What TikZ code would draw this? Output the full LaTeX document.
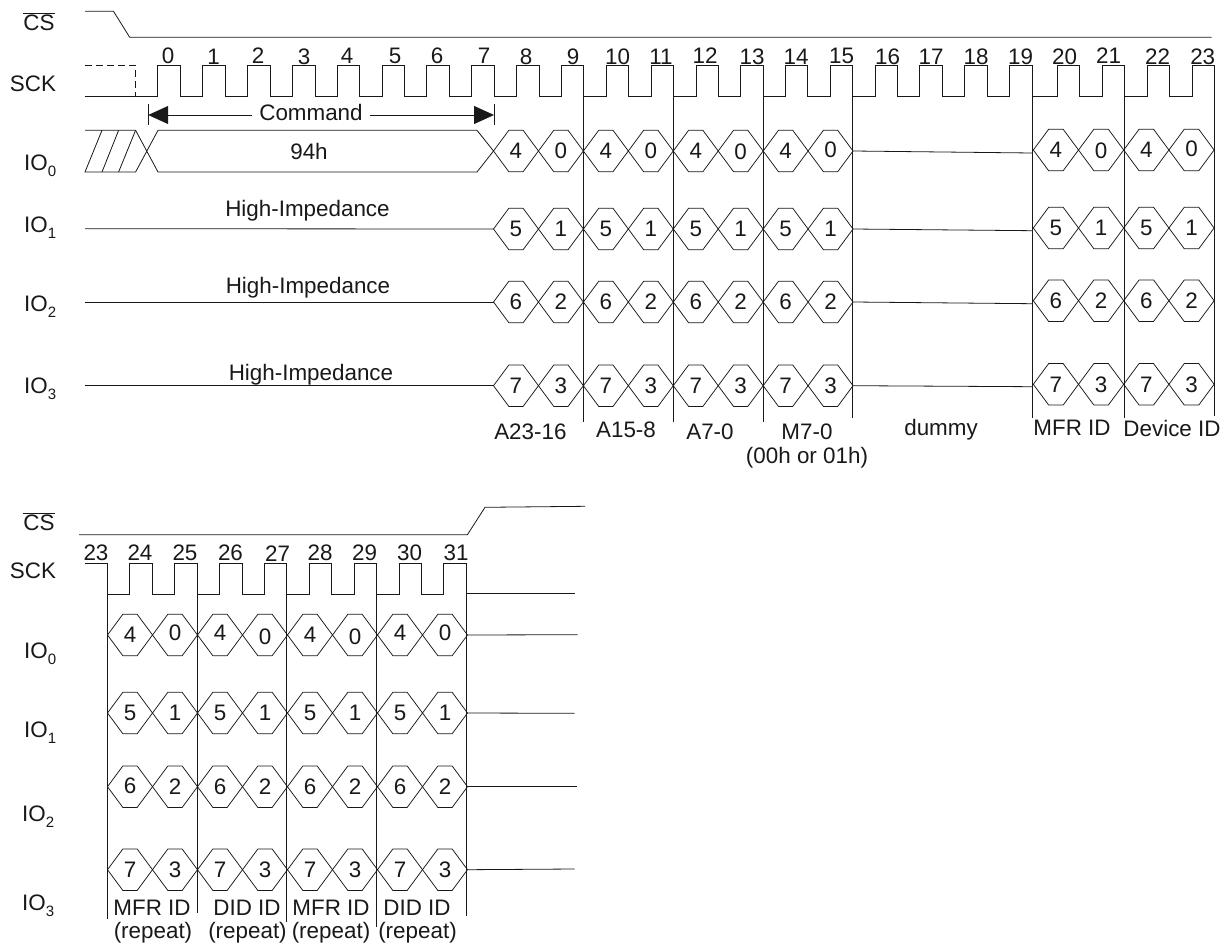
\documentclass[tikz,border=0pt]{standalone}
\usepackage{fontspec}
\setmainfont{Liberation Sans}
\usetikzlibrary{shapes.symbols,arrows.meta}
\definecolor{ink}{gray}{0.1}
\newcommand{\IOsub}[1]{IO\raisebox{-0.28em}{\fontsize{15}{16}\selectfont #1}}
\newcommand{\CSbar}{$\overline{\mbox{CS}}$}
% \hexrow{id}{y}{x0}{period}{last index}{digitA}{digitB}{offsets}
\newcommand{\hexrow}[8]{%
  \foreach \i in {0,...,#5}{%
    \pgfmathsetmacro{\cx}{#3+#4*(\i+0.5)}%
    \pgfmathsetmacro{\dy}{{#8}[\i]}%
    \pgfmathtruncatemacro{\odd}{mod(\i,2)}%
    \node[hexcell,minimum width=#4*1pt] (h#1-\i) at (\cx,#2) {};
    \node[digit] (d#1-\i) at (\cx,#2+\dy) {\ifnum\odd=0 #6\else #7\fi};
  }}
\begin{document}
\begin{tikzpicture}[x=1pt,y=-1pt,
  wire/.style={draw=ink,line width=0.8pt,line join=miter},
  hexcell/.style={draw=ink,line width=0.75pt,shape=signal,signal to=east and west,
    signal pointer angle=107,minimum height=41.5pt,inner sep=0pt,outer sep=0pt},
  digit/.style={font=\fontsize{22.4}{26}\selectfont,inner sep=0pt,text=ink},
  txt/.style={font=\fontsize{22.4}{26}\selectfont,inner sep=0pt,text=ink},
  sublab/.style={txt,anchor=base west},
  bigtri/.style={-{Triangle[length=20pt,width=18pt]}}]
\useasboundingbox (0,0) rectangle (1228,947);
\fill[white] (0,0) rectangle (1228,947);

%%% UPPER
\node[txt] (csA) at (39,22) {\CSbar};
\node[txt] (sckA) at (33,84) {SCK};
\node[sublab] (ioA0) at (24,170) {\IOsub{0}};
\node[sublab] (ioA1) at (24,232) {\IOsub{1}};
\node[sublab] (ioA2) at (24,311) {\IOsub{2}};
\node[sublab] (ioA3) at (24,393) {\IOsub{3}};

\draw[wire] (85,11.3) -- (113.5,11.3) -- (129.7,37.3) -- (1211.5,37.3);
\draw[wire,dash pattern=on 7pt off 4pt] (85,65.3) -- (135.5,65.3) -- (135.5,96.7);
\draw[wire] (85,96.7) foreach \r/\f in {157.4/180.7,202.4/225.8,247.5/270,292.2/315.1,337.3/359.8,382/404.5,426.6/449.2,471.3/494.3,516.4/539,561.5/583.6,606/628.4,650.9/673.3,696/718,740.6/763,785.4/807.8,830.3/852.7,875/897.5,919.6/942.4,964.8/987.3,1009.7/1032,1057/1079.4,1102/1124.6,1147/1169,1192/1214}
 { -- (\r,96.7) -- (\r,65.3) -- (\f,65.3) -- (\f,96.7)};

\foreach \n/\x/\y in {0/168/56,1/213.5/57,2/258/56,3/304/57,4/347/56,5/395/56,6/437/56,7/484/56,8/526/57,9/573/57,10/617.5/57,11/661/57,12/705/56,13/752/57,14/796/57,15/841.5/56,16/887.5/57,17/931/57,18/976/57,19/1020.5/57,20/1064.5/57,21/1108.6/56,22/1157.5/57,23/1202.7/57}
  \node[txt] (nA\n) at (\x,\y) {\n};

\coordinate (cmdL) at (148.2,115);
\coordinate (cmdR) at (494,115);
\coordinate (cmdLt) at (148.2,104);
\coordinate (cmdLb) at (148.2,125);
\coordinate (cmdRt) at (494,104);
\coordinate (cmdRb) at (494,125);
\node[txt,inner xsep=7pt] (cmd) at (311,112) {Command};
\draw[wire] (cmdLt) -- (cmdLb);
\draw[wire] (cmdRt) -- (cmdRb);
\draw[wire,bigtri] (cmd.west |- cmdL) -- (cmdL);
\draw[wire,bigtri] (cmd.east |- cmdR) -- (cmdR);

% IO0 command bus
\draw[wire] (85,130.3) -- (135.6,130.3) -- (158,172) -- (477,172) -- (493.5,151) -- (477,130.3) -- (158,130.3) -- (135.6,172) -- (85,172) -- (102,130.3);
\draw[wire] (102,172) -- (118.6,130.3);
\draw[wire] (118.6,172) -- (135.6,130.3);
\node[txt] (hex94) at (309,151) {94h};

\hexrow{a0}{151}{493.5}{44.94}{7}{4}{0}{0,0,0,0,0,0.7,0,-1}
\hexrow{a1}{229}{493.5}{44.94}{7}{5}{1}{0,0,0,0,0,0,0,0}
\hexrow{a2}{302}{493.5}{44.94}{7}{6}{2}{0,0,0,0,0,0,0,0}
\hexrow{a3}{385.7}{493.5}{44.94}{7}{7}{3}{0,0,0,0,0,0,0,0}
\hexrow{b0}{150}{1033.3}{45.2}{3}{4}{0}{0,1,0,-1}
\hexrow{b1}{228}{1033.3}{45.2}{3}{5}{1}{0,0,0,0}
\hexrow{b2}{300.7}{1033.3}{45.2}{3}{6}{2}{0,0,0,0}
\hexrow{b3}{384.3}{1033.3}{45.2}{3}{7}{3}{0,0,0,0}

\coordinate (hiz1) at (85,228.7);
\coordinate (hiz2) at (85,302);
\coordinate (hiz3) at (85,385.7);
\draw[wire] (hiz1) -- (ha1-0.west);
\draw[wire] (hiz2) -- (ha2-0.west);
\draw[wire] (hiz3) -- (ha3-0.west);
\node[txt] (hi1) at (307.5,211) {High-Impedance};
\node[txt] (hi2) at (308,288) {High-Impedance};
\node[txt] (hi3) at (311,375) {High-Impedance};

\coordinate (dm0) at (1032,153);
\coordinate (dm1) at (1032,230.7);
\coordinate (dm2) at (1032,303.7);
\coordinate (dm3) at (1032,386.7);
\foreach \r in {0,1,2,3} \draw[wire] (ha\r-7.east) -- (dm\r);

\foreach \k/\x/\b in {1/583.6/422,2/673.3/422,3/763/422,4/852.7/417.7,5/1032/418,6/1124.6/418,7/1214.5/415.7}{
  \coordinate (sAt\k) at (\x,65.3);
  \coordinate (sAb\k) at (\x,\b);
  \draw[wire] (sAt\k) -- (sAb\k);
}

\node[txt] (lA1) at (530.4,432) {A23-16};
\node[txt] (lA2) at (626,430) {A15-8};
\node[txt] (lA3) at (710,432) {A7-0};
\node[txt] (lA4) at (807,432) {M7-0};
\node[txt] (lA5) at (807,458) {(00h or 01h)};
\node[txt] (lA6) at (941,430) {dummy};
\node[txt] (lA7) at (1072,428) {MFR ID};
\node[txt] (lA8) at (1172,428) {Device ID};

%%% LOWER
\node[txt] (csB) at (39,522) {\CSbar};
\node[txt] (sckB) at (33,571) {SCK};
\node[sublab] (ioB0) at (24,658) {\IOsub{0}};
\node[sublab] (ioB1) at (24,737) {\IOsub{1}};
\node[sublab] (ioB2) at (22,821) {\IOsub{2}};
\node[sublab] (ioB3) at (22,910) {\IOsub{3}};

\draw[wire] (79,534.7) -- (467.4,534.7) -- (485,507.3) -- (585,506.3);
\draw[wire] (85,563.7) -- (107.5,563.7) -- (107.5,594.3) foreach \r/\f in {129.7/152.2,174.8/197,219.5/242,264.5/286.7,309/331.7,354/376.4,399/421.5,443.7/466.2}
 { -- (\r,594.3) -- (\r,563.7) -- (\f,563.7) -- (\f,594.3)};
\coordinate (tailS0) at (467.4,593.3);
\coordinate (tailS1) at (574.5,593.3);
\draw[wire] (tailS0) -- (tailS1);

\foreach \n/\x/\y in {23/96/553,24/140/553,25/185/553,26/230.5/553,27/277.6/554,28/320/553,29/364.5/553,30/409.6/553,31/456/553}
  \node[txt] (nB\n) at (\x,\y) {\n};

\hexrow{c0}{635}{107.5}{45}{7}{4}{0}{0,-2.5,-2.5,1.5,0,1.5,-2.5,-2.5}
\hexrow{c1}{713}{107.5}{45}{7}{5}{1}{0,0,0,0,0,0,0,0}
\hexrow{c2}{786.7}{107.5}{45}{7}{6}{2}{-1,0,0,0,0,0,0,0}
\hexrow{c3}{869.7}{107.5}{45}{7}{7}{3}{0,0,0,0,0,0,0,0}

\foreach \r/\y/\x in {0/634.7/577.7,1/713.3/574.5,2/786.7/576.5,3/869/574.5}{
  \coordinate (tailI\r) at (\x,\y);
  \draw[wire] (hc\r-7.east) -- (tailI\r);
}

\foreach \k/\x/\t/\b in {1/107.5/594.3/919.3,2/197/563.7/912.7,3/286.7/563.7/921.7,4/376.4/563.7/926.7,5/466/563.7/916}{
  \coordinate (sBt\k) at (\x,\t);
  \coordinate (sBb\k) at (\x,\b);
  \draw[wire] (sBt\k) -- (sBb\k);
}

\node[txt] (lB1) at (152,908) {MFR ID};
\node[txt] (lB2) at (247,908) {DID ID};
\node[txt] (lB3) at (331,908) {MFR ID};
\node[txt] (lB4) at (417,908) {DID ID};
\node[txt] (lB5) at (153,933) {(repeat)};
\node[txt] (lB6) at (247.5,933) {(repeat)};
\node[txt] (lB7) at (331,933) {(repeat)};
\node[txt] (lB8) at (417.5,933) {(repeat)};
\end{tikzpicture}
\end{document}
